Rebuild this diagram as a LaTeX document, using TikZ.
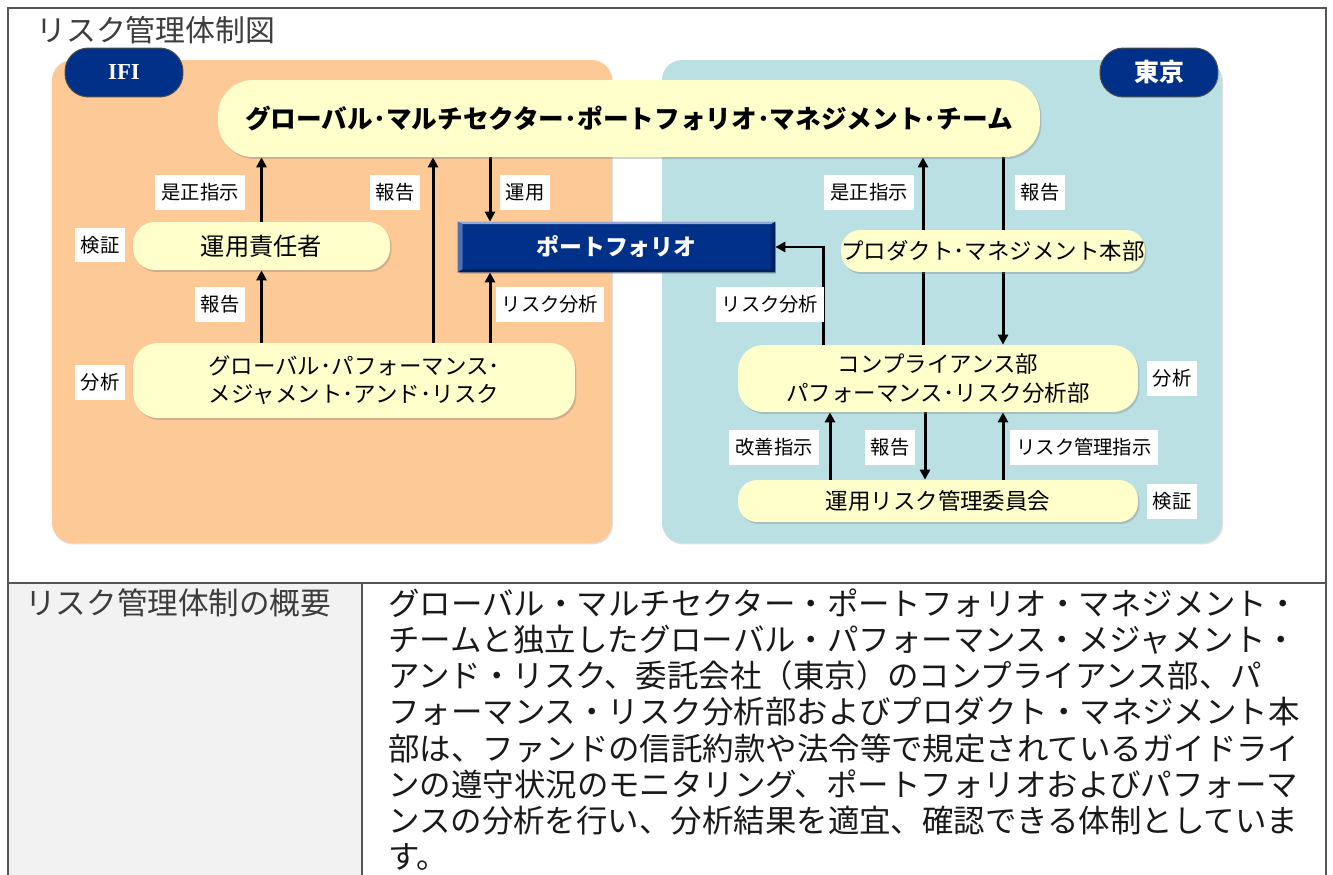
\documentclass[tikz,border=0pt]{standalone}
\usepackage{fontspec}
\setmainfont{Noto Sans CJK JP}
\newfontfamily\serifbf{Liberation Serif}
\usetikzlibrary{arrows.meta,shadows}
\definecolor{peach}{RGB}{253,201,151}
\definecolor{paleblue}{RGB}{186,224,227}
\definecolor{cream}{RGB}{255,255,204}
\definecolor{navy}{RGB}{0,48,135}
\definecolor{bevlight}{RGB}{80,112,180}
\definecolor{bevdark}{RGB}{0,30,90}
\definecolor{framegray}{RGB}{85,85,85}
\definecolor{cellgray}{RGB}{242,242,242}
\definecolor{titlegray}{RGB}{60,60,60}
\pgfdeclarelayer{back}
\pgfdeclarelayer{lines}
\pgfsetlayers{back,lines,main}
\tikzset{
  panel/.style={minimum width=11.2cm, minimum height=9.66cm, rounded corners=0.4cm, inner sep=0pt,
    drop shadow={shadow xshift=0.02cm, shadow yshift=-0.03cm, opacity=0.25}},
  badge/.style={fill=navy, draw=black!70, line width=0.02cm, rounded corners=0.47cm, minimum width=2.36cm,
    minimum height=0.98cm, inner sep=0pt, text=white},
  ybox/.style={fill=cream, inner sep=0pt, align=center, font=\fontsize{12.8pt}{16pt}\selectfont,
    drop shadow={shadow xshift=0.03cm, shadow yshift=-0.04cm, opacity=0.35}},
  lbl/.style={fill=white, inner xsep=3.5pt, inner ysep=0pt, minimum height=0.7cm, font=\fontsize{11pt}{13pt}\selectfont},
  arr/.style={line width=0.06cm, -{Triangle[length=0.2cm,width=0.2cm]}},
  bodytxt/.style={anchor=west, inner sep=0pt, font=\fontsize{17.9pt}{20pt}\selectfont, text=black!90}
}
\begin{document}
\begin{tikzpicture}[x=0.02cm, y=-0.02cm]
\useasboundingbox (0,0) rectangle (1333,875);
% table frame
\fill[cellgray] (8,583) rectangle (362,875);
\draw[framegray, line width=0.04cm] (8,875) -- (8,8) -- (1326,8) -- (1326,875);
\draw[framegray, line width=0.04cm] (8,583) -- (1326,583);
\draw[framegray, line width=0.04cm] (362,583) -- (362,875);
% title
\node[anchor=west, inner sep=0pt, text=titlegray, font=\fontsize{17pt}{20pt}\selectfont] (title) at (36,30) {リスク管理体制図};
% panels
\begin{pgfonlayer}{back}
\node[panel, fill=peach] (ifipanel) at (332,301.5) {};
\node[panel, fill=paleblue] (tokyopanel) at (942,301.5) {};
\end{pgfonlayer}
% badges
\node[badge, font=\serifbf\bfseries\fontsize{13pt}{15pt}\selectfont] (ifi) at (124,72.5) {IFI};
\node[badge, font=\bfseries\fontsize{14.2pt}{16pt}\selectfont] (tokyo) at (1159,72.5) {東京};
% main boxes
\node[ybox, minimum width=16.44cm, minimum height=1.54cm, rounded corners=0.7cm, font=\bfseries\fontsize{14.6pt}{17pt}\selectfont] (top) at (629,118.5) {グローバル･マルチセクター･ポートフォリオ･マネジメント･チーム};
\node[ybox, minimum width=5.14cm, minimum height=0.96cm, rounded corners=0.44cm, font=\fontsize{13.8pt}{16pt}\selectfont] (mgr) at (261.5,246) {運用責任者};
\node[ybox, minimum width=8.84cm, minimum height=1.5cm, rounded corners=0.5cm] (gpmr) at (354,380.5) {グローバル･パフォーマンス･\\メジャメント･アンド･リスク};
\node[ybox, minimum width=6.0cm, minimum height=0.84cm, rounded corners=0.38cm] (pm) at (993,251) {プロダクト･マネジメント本部};
\node[ybox, minimum width=8.0cm, minimum height=1.34cm, rounded corners=0.5cm] (comp) at (938,378.5) {コンプライアンス部\\パフォーマンス･リスク分析部};
\node[ybox, minimum width=8.0cm, minimum height=0.84cm, rounded corners=0.38cm] (comm) at (938,501) {運用リスク管理委員会};
% portfolio box
\node[fill=navy, text=white, minimum width=6.34cm, minimum height=1.0cm, inner sep=0pt,
  font=\bfseries\fontsize{13pt}{15pt}\selectfont,
  drop shadow={shadow xshift=0.03cm, shadow yshift=-0.04cm, opacity=0.4}] (port) at (616.5,247) {ポートフォリオ};
\fill[bevlight!60!white] (port.north west) -- (port.north east) -- ([xshift=-0.08cm,yshift=-0.05cm]port.north east) -- ([xshift=0.1cm,yshift=-0.05cm]port.north west) -- cycle;
\fill[bevlight] (port.north west) -- ([xshift=0.1cm,yshift=-0.05cm]port.north west) -- ([xshift=0.1cm,yshift=0.06cm]port.south west) -- (port.south west) -- cycle;
\fill[bevdark] (port.south west) -- ([xshift=0.1cm,yshift=0.06cm]port.south west) -- ([xshift=-0.08cm,yshift=0.06cm]port.south east) -- (port.south east) -- cycle;
\fill[bevdark!80!navy] (port.north east) -- ([xshift=-0.08cm,yshift=-0.05cm]port.north east) -- ([xshift=-0.08cm,yshift=0.06cm]port.south east) -- (port.south east) -- cycle;
% labels
\node[lbl] (l1) at (100,245) {検証};
\node[lbl] (l2) at (200,192.5) {是正指示};
\node[lbl] (l3) at (395,192.5) {報告};
\node[lbl] (l4) at (525,192.5) {運用};
\node[lbl] (l5) at (220,304.5) {報告};
\node[lbl] (l6) at (550,304.5) {リスク分析};
\node[lbl] (l7) at (100,382.5) {分析};
\node[lbl] (l8) at (869,192.5) {是正指示};
\node[lbl] (l9) at (1040,192.5) {報告};
\node[lbl] (l10) at (770,304.5) {リスク分析};
\node[lbl] (l11) at (1172,378.5) {分析};
\node[lbl] (l12) at (774,447.5) {改善指示};
\node[lbl] (l13) at (890,447.5) {報告};
\node[lbl] (l14) at (1084,447.5) {リスク管理指示};
\node[lbl] (l15) at (1172,501.5) {検証};
% connector x positions
\coordinate (c433) at (433,0);
\coordinate (c490) at (490,0);
\coordinate (c823) at (823,0);
\coordinate (c923) at (923,0);
\coordinate (c1003) at (1003,0);
\coordinate (c830) at (830,0);
\coordinate (c925) at (925,0);
\begin{pgfonlayer}{lines}
\draw[arr] (mgr.north) -- (mgr.north |- top.south);
\draw[arr] (gpmr.north -| mgr.north) -- (mgr.south);
\draw[arr] (gpmr.north -| c433) -- (top.south -| c433);
\draw[arr] (top.south -| c490) -- (port.north -| c490);
\draw[arr] (gpmr.north -| c490) -- (port.south -| c490);
\draw[arr] (comp.north -| c823) |- (port.east);
\draw[arr] (comp.north -| c923) -- (top.south -| c923);
\draw[arr] (top.south -| c1003) -- (comp.north -| c1003);
\draw[arr] (comm.north -| c830) -- (comp.south -| c830);
\draw[arr] (comp.south -| c925) -- (comm.north -| c925);
\draw[arr] (comm.north -| c1003) -- (comp.south -| c1003);
\end{pgfonlayer}
% table text
\node[anchor=west, inner sep=0pt, text=titlegray, font=\fontsize{17.4pt}{20pt}\selectfont] (head) at (25,603) {リスク管理体制の概要};
\node[bodytxt] (t1) at (388,603) {グローバル・マルチセクター・ポートフォリオ・マネジメント・};
\node[bodytxt] (t2) at (388,639.3) {チームと独立したグローバル・パフォーマンス・メジャメント・};
\node[bodytxt] (t3) at (388,675.6) {アンド・リスク、委託会社（東京）のコンプライアンス部、パ};
\node[bodytxt] (t4) at (388,711.9) {フォーマンス・リスク分析部およびプロダクト・マネジメント本};
\node[bodytxt] (t5) at (388,748.2) {部は、ファンドの信託約款や法令等で規定されているガイドライ};
\node[bodytxt] (t6) at (388,784.5) {ンの遵守状況のモニタリング、ポートフォリオおよびパフォーマ};
\node[bodytxt] (t7) at (388,820.8) {ンスの分析を行い、分析結果を適宜、確認できる体制としていま};
\node[bodytxt] (t8) at (388,857.1) {す。};
\end{tikzpicture}
\end{document}
